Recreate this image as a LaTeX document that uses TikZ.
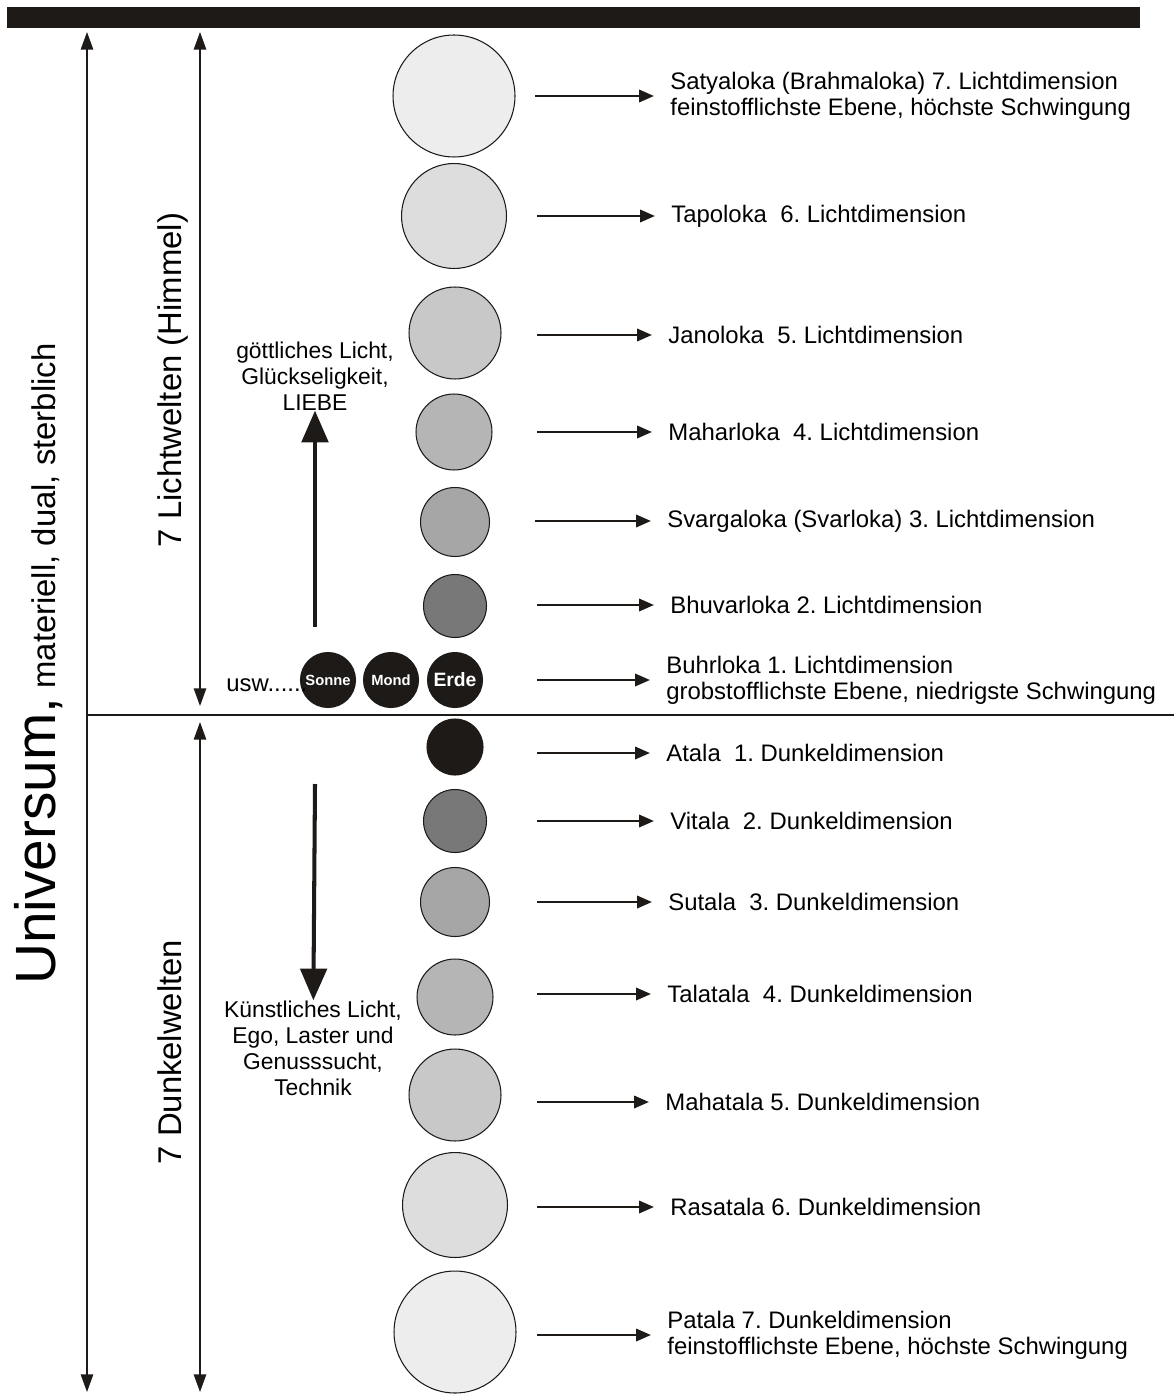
\documentclass[tikz,border=0pt]{standalone}
\usepackage{fontspec}
\setmainfont{Liberation Sans}
\usetikzlibrary{arrows.meta}
\frenchspacing

\definecolor{hell7}{HTML}{EDEDED}
\definecolor{hell6}{HTML}{DDDDDD}
\definecolor{hell5}{HTML}{C8C8C8}
\definecolor{hell4}{HTML}{B5B5B5}
\definecolor{hell3}{HTML}{A6A6A6}
\definecolor{hell2}{HTML}{787878}
\definecolor{dunkel}{HTML}{1E1A18}

\tikzset{
  ebene/.style={circle,draw=dunkel,line width=0.6pt,inner sep=0pt},
  planet/.style={ebene,fill=dunkel,text=white,font=\bfseries\fontsize{8.4}{9}\selectfont,minimum size=1.1cm},
  beschr/.style={anchor=west,inner sep=0pt,align=left,font=\fontsize{13.6}{14.8}\selectfont},
  mitte/.style={inner sep=0pt,align=center,font=\fontsize{13}{14.8}\selectfont},
  seite/.style={rotate=90,inner sep=0pt,font=\fontsize{18.7}{20}\selectfont},
  zeiger/.style={draw=dunkel,line width=1.4pt,-{Triangle[length=8.5pt,width=7pt]},shorten >=0.32cm},
  lang/.style={draw=dunkel,line width=0.9pt,{Triangle[length=10pt,width=7pt]}-{Triangle[length=10pt,width=7pt]}},
  dick/.style={draw=dunkel,line width=2.3pt,-{Triangle[length=18pt,width=15pt]}}
}

\begin{document}
\begin{tikzpicture}[x=0.02cm,y=-0.02cm]
\useasboundingbox (0,0) rectangle (1174,1398);
%% Balken, Achsen, Trennlinie
\fill[dunkel] (7,7) rectangle (1140,28);
\draw[lang] (87,32) -- (87,1392);
\draw[lang] (200,32) -- (200,706);
\draw[lang] (200,722) -- (200,1392);
\draw[draw=dunkel,line width=0.8pt] (88,715) -- (1174,715);
%% Seitentexte
\node[seite,anchor=base west] (univ) at (55,985) {{\fontsize{32.3}{34}\selectfont Universum,} materiell, dual, sterblich};
\node[seite,anchor=base] (lichtw) at (181,380) {7 Lichtwelten (Himmel)};
\node[seite,anchor=base] (dunkelw) at (181,1052) {7 Dunkelwelten};
%% Lichtwelten
\node[ebene,fill=hell7,minimum size=2.44cm] (satya) at (454,96) {};
\node[ebene,fill=hell6,minimum size=2.1cm] (tapo) at (454,216) {};
\node[ebene,fill=hell5,minimum size=1.84cm] (jano) at (455,333) {};
\node[ebene,fill=hell4,minimum size=1.52cm] (mahar) at (454,432) {};
\node[ebene,fill=hell3,minimum size=1.38cm] (svarga) at (455,522) {};
\node[ebene,fill=hell2,minimum size=1.26cm] (bhuvar) at (455,606) {};
\node[planet,font=\bfseries\fontsize{11}{12}\selectfont] (erde) at (455,680) {Erde};
\node[planet] (mond) at (391,680) {Mond};
\node[planet] (sonne) at (328,680) {Sonne};
\node[beschr,anchor=base west] (usw) at (226,691) {usw......};
%% Dunkelwelten
\node[ebene,fill=dunkel,minimum size=1.12cm] (atala) at (455,747) {};
\node[ebene,fill=hell2,minimum size=1.26cm] (vitala) at (455,821) {};
\node[ebene,fill=hell3,minimum size=1.38cm] (sutala) at (455,902) {};
\node[ebene,fill=hell4,minimum size=1.52cm] (talatala) at (455,997) {};
\node[ebene,fill=hell5,minimum size=1.84cm] (mahatala) at (455,1095) {};
\node[ebene,fill=hell6,minimum size=2.1cm] (rasatala) at (455,1205) {};
\node[ebene,fill=hell7,minimum size=2.44cm] (patala) at (455,1332) {};
%% Beschriftungen rechts
\node[beschr] (t-satya) at (670,96) {Satyaloka (Brahmaloka) 7. Lichtdimension\\feinstofflichste Ebene, höchste Schwingung};
\node[beschr] (t-tapo) at (671,216) {Tapoloka~ 6. Lichtdimension};
\node[beschr] (t-jano) at (668,335) {Janoloka~ 5. Lichtdimension};
\node[beschr] (t-mahar) at (668,432) {Maharloka~ 4. Lichtdimension};
\node[beschr] (t-svarga) at (667,521) {Svargaloka (Svarloka) 3. Lichtdimension};
\node[beschr] (t-bhuvar) at (670,605) {Bhuvarloka 2. Lichtdimension};
\node[beschr] (t-erde) at (666,680) {Buhrloka 1. Lichtdimension\\grobstofflichste Ebene, niedrigste Schwingung};
\node[beschr] (t-atala) at (666,753) {Atala~ 1. Dunkeldimension};
\node[beschr] (t-vitala) at (670,821) {Vitala~ 2. Dunkeldimension};
\node[beschr] (t-sutala) at (668,902) {Sutala~ 3. Dunkeldimension};
\node[beschr] (t-talatala) at (667,994) {Talatala~ 4. Dunkeldimension};
\node[beschr] (t-mahatala) at (665,1102) {Mahatala 5. Dunkeldimension};
\node[beschr] (t-rasatala) at (670,1207) {Rasatala 6. Dunkeldimension};
\node[beschr] (t-patala) at (667,1335) {Patala 7. Dunkeldimension\\feinstofflichste Ebene, höchste Schwingung};
\coordinate (p-satya) at (535,96);
\coordinate (p-tapo) at (537,216);
\coordinate (p-jano) at (537,335);
\coordinate (p-mahar) at (537,432);
\coordinate (p-svarga) at (535,521);
\coordinate (p-bhuvar) at (537,605);
\coordinate (p-erde) at (537,680);
\coordinate (p-atala) at (537,753);
\coordinate (p-vitala) at (537,821);
\coordinate (p-sutala) at (537,902);
\coordinate (p-talatala) at (537,994);
\coordinate (p-mahatala) at (537,1102);
\coordinate (p-rasatala) at (537,1207);
\coordinate (p-patala) at (537,1335);
\draw[zeiger] (p-satya) -- (t-satya);
\draw[zeiger] (p-tapo) -- (t-tapo);
\draw[zeiger] (p-jano) -- (t-jano);
\draw[zeiger] (p-mahar) -- (t-mahar);
\draw[zeiger] (p-svarga) -- (t-svarga);
\draw[zeiger] (p-bhuvar) -- (t-bhuvar);
\draw[zeiger] (p-erde) -- (t-erde);
\draw[zeiger] (p-atala) -- (t-atala);
\draw[zeiger] (p-vitala) -- (t-vitala);
\draw[zeiger] (p-sutala) -- (t-sutala);
\draw[zeiger] (p-talatala) -- (t-talatala);
\draw[zeiger] (p-mahatala) -- (t-mahatala);
\draw[zeiger] (p-rasatala) -- (t-rasatala);
\draw[zeiger] (p-patala) -- (t-patala);
%% Mitte: Licht nach oben, Dunkel nach unten
\node[mitte] (licht) at (315,376) {göttliches Licht,\\Glückseligkeit,\\LIEBE};
\node[mitte] (kuenst) at (313,1048) {Künstliches Licht,\\Ego, Laster und\\Genusssucht,\\Technik};
\coordinate (hoch) at (315,627);
\coordinate (runter) at (315,784);
\draw[dick] (hoch) -- (licht);
\draw[dick] (runter) -- (kuenst);
\end{tikzpicture}
\end{document}
